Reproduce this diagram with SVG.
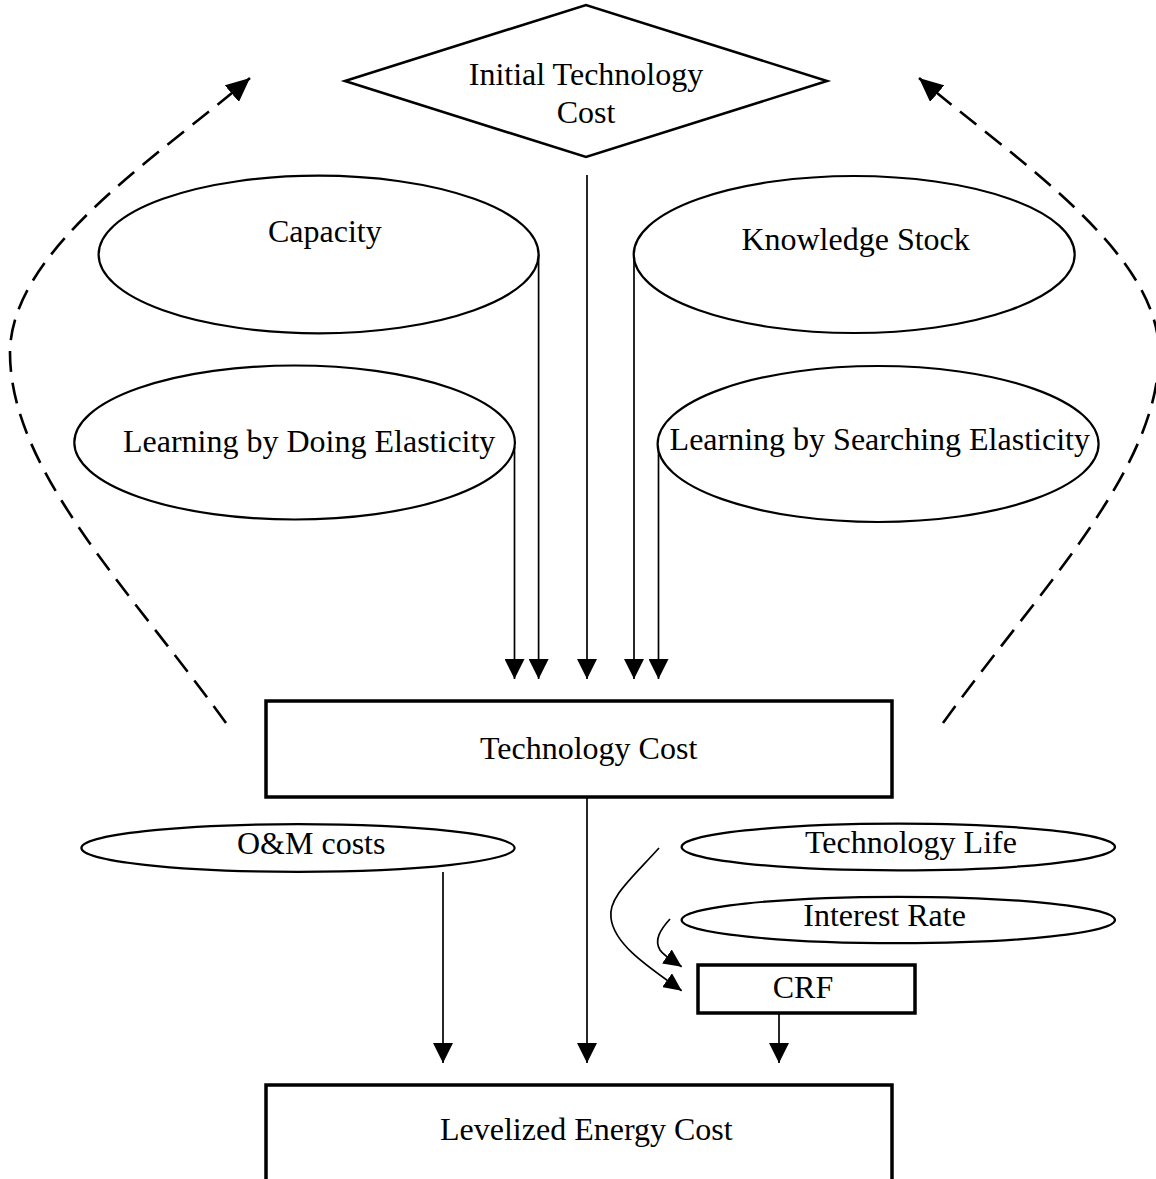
<svg xmlns="http://www.w3.org/2000/svg" width="1156" height="1179" viewBox="0 0 1156 1179">
  <style>
    .shape { fill: #ffffff; stroke: #000000; }
    .oval { stroke-width: 2.2; }
    .box { stroke-width: 3.5; }
    .label { font-family: "Liberation Serif", "Times New Roman", serif; font-size: 32px; fill: #000000; }
    .flow { fill: none; stroke: #000000; stroke-width: 1.7; }
    .feedback { fill: none; stroke: #000000; stroke-width: 2.6; stroke-dasharray: 21 11; }
  </style>
  <defs>
    <marker id="head" markerUnits="userSpaceOnUse" markerWidth="20" markerHeight="20" refX="20" refY="10" orient="auto">
      <path d="M0,0 L20,10 L0,20 z" fill="#000000"/>
    </marker>
    <marker id="head-small" markerUnits="userSpaceOnUse" markerWidth="18" markerHeight="17" refX="18" refY="8.5" orient="auto">
      <path d="M0,0 L18,8.5 L0,17 z" fill="#000000"/>
    </marker>
    <marker id="head-dash" markerUnits="userSpaceOnUse" markerWidth="24" markerHeight="22" refX="24" refY="11" orient="auto">
      <path d="M0,0 L24,11 L0,22 z" fill="#000000"/>
    </marker>
  </defs>

  <!-- connectors -->
  <g id="connectors">
    <!-- feedback loops back to the initial cost -->
    <path class="feedback" d="M226,723 C130,590 10,470 10,353 C10,250 160,155 250,78" marker-end="url(#head-dash)"/>
    <path class="feedback" d="M943,723 C1039,590 1159,470 1159,353 C1159,250 1009,155 919,78" marker-end="url(#head-dash)"/>
    <!-- inputs to technology cost -->
    <path class="flow" d="M514.5,447 V679" marker-end="url(#head)"/>
    <path class="flow" d="M538.6,254 V679" marker-end="url(#head)"/>
    <path class="flow" d="M587,175 V679" marker-end="url(#head)"/>
    <path class="flow" d="M634,255 V679" marker-end="url(#head)"/>
    <path class="flow" d="M658.5,450 V679" marker-end="url(#head)"/>
    <!-- inputs to levelized energy cost -->
    <path class="flow" d="M443,872 V1063" marker-end="url(#head)"/>
    <path class="flow" d="M587,797 V1063" marker-end="url(#head)"/>
    <path class="flow" d="M779,1013 V1063" marker-end="url(#head)"/>
    <!-- inputs to CRF -->
    <path class="flow" d="M659,848 C630,880 608,898 611,918 C614,945 650,968 681.7,990.7" marker-end="url(#head-small)"/>
    <path class="flow" d="M670,919 C660,930 654,940 660,950 C664,956 672,960 681.7,966.7" marker-end="url(#head-small)"/>
  </g>

  <g id="initial-technology-cost">
    <polygon class="shape" points="345,81 586,5 827,81 586,157" stroke-width="2.6"/>
    <text class="label" x="586" y="85" text-anchor="middle">Initial Technology</text>
    <text class="label" x="586" y="123" text-anchor="middle">Cost</text>
  </g>

  <g id="capacity">
    <ellipse class="shape oval" cx="318.6" cy="254.5" rx="220" ry="78.8"/>
    <text class="label" x="268" y="242">Capacity</text>
  </g>

  <g id="knowledge-stock">
    <ellipse class="shape oval" cx="854.2" cy="254.5" rx="220.5" ry="78.5"/>
    <text class="label" x="741.4" y="250">Knowledge Stock</text>
  </g>

  <g id="learning-by-doing">
    <ellipse class="shape oval" cx="294.6" cy="442.5" rx="220.3" ry="77"/>
    <text class="label" x="123" y="452">Learning by Doing Elasticity</text>
  </g>

  <g id="learning-by-searching">
    <ellipse class="shape oval" cx="878.1" cy="444" rx="220.5" ry="78"/>
    <text class="label" x="669.6" y="450">Learning by Searching Elasticity</text>
  </g>

  <g id="technology-cost">
    <rect class="shape box" x="266" y="701" width="626" height="96"/>
    <text class="label" x="480" y="759">Technology Cost</text>
  </g>

  <g id="om-costs">
    <ellipse class="shape oval" cx="298" cy="848" rx="216.6" ry="23.8"/>
    <text class="label" x="237" y="854">O&amp;M costs</text>
  </g>

  <g id="technology-life">
    <ellipse class="shape oval" cx="898.3" cy="847" rx="216.7" ry="23.4"/>
    <text class="label" x="805" y="853">Technology Life</text>
  </g>

  <g id="interest-rate">
    <ellipse class="shape oval" cx="898.3" cy="920" rx="216.7" ry="23.2"/>
    <text class="label" x="803.3" y="926">Interest Rate</text>
  </g>

  <g id="crf">
    <rect class="shape box" x="698" y="965" width="217" height="48"/>
    <text class="label" x="772.7" y="997.7">CRF</text>
  </g>

  <g id="levelized-energy-cost">
    <rect class="shape box" x="266" y="1085" width="626" height="120"/>
    <text class="label" x="440" y="1139.5">Levelized Energy Cost</text>
  </g>
</svg>
